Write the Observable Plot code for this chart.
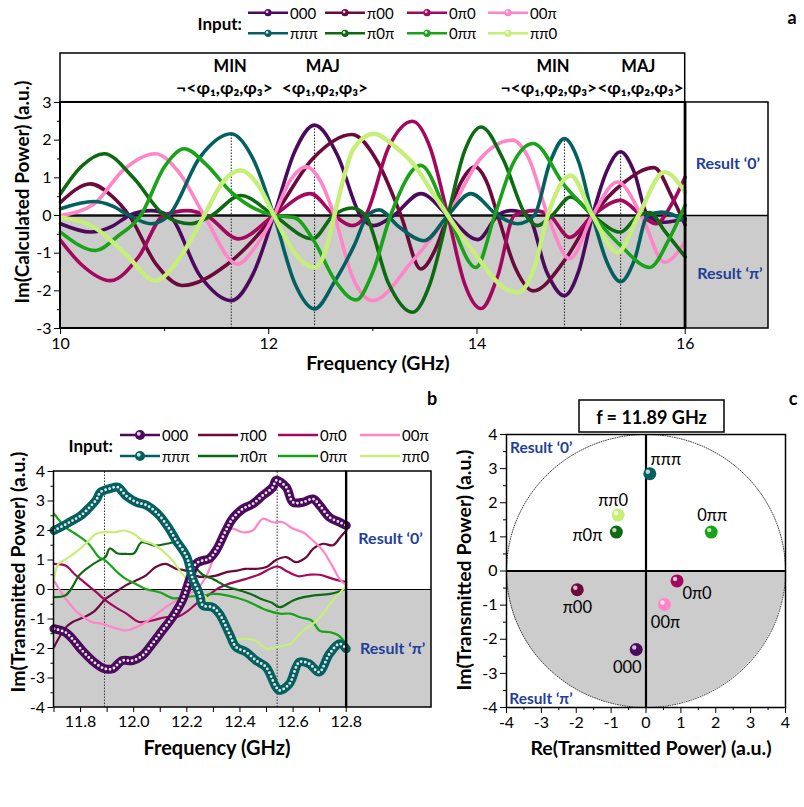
<!DOCTYPE html>
<html><head><meta charset="utf-8">
<script src="https://cdn.jsdelivr.net/npm/d3@7"></script>
<script src="https://cdn.jsdelivr.net/npm/@observablehq/plot@0.6"></script>
<style>
body{margin:0;background:#fff;}
#root{position:relative;width:804px;height:807px;overflow:hidden;background:#fff;}
</style></head><body><div id="root"></div>
<script>
// ---------- shared ----------
const inputs = ["000","π00","0π0","00π","πππ","π0π","0ππ","ππ0"];
const colors = ["#4b0a5c","#6b0a3b","#a4085e","#ff85c8","#04605f","#0e6a12","#19a319","#c6ef7a"];

// ---------- panel a : Im(Calculated Power) vs frequency ----------
const a000 = [[10,-0.22],[10.29,-0.44],[10.5,-0.28],[10.66,0],[10.87,0.13],[11.04,0],[11.34,-1.6],[11.64,-2.26],[11.85,-1.55],[12.05,0],[12.25,1.7],[12.44,2.4],[12.66,1.6],[12.88,0],[13.01,-0.27],[13.2,0],[13.46,0.58],[13.72,0],[14.01,-0.64],[14.2,0],[14.33,0.13],[14.49,0],[14.67,-1.5],[14.84,-2.13],[14.98,-1.45],[15.11,0],[15.25,1.2],[15.38,1.69],[15.51,1.15],[15.64,0],[15.8,-0.18],[16,-0.08]];
const aP00 = [[10,0.35],[10.29,0.84],[10.48,0.55],[10.66,0],[10.92,-1.3],[11.17,-1.86],[11.6,-1.3],[12.05,0],[12.42,1.5],[12.8,2.15],[13.05,1.4],[13.27,0],[13.46,-1.42],[13.6,-0.9],[13.72,0],[13.85,0.9],[13.98,1.29],[14.1,0.85],[14.2,0],[14.37,-1.4],[14.54,-2.0],[14.84,-1.2],[15.11,0],[15.4,0.85],[15.7,1.27],[15.88,0.45],[16,-0.25]];
const a0P0 = [[10,-0.66],[10.2,-1.3],[10.48,-1.73],[10.75,-1.1],[10.99,0],[11.22,0.13],[11.4,0],[11.71,-0.62],[12.05,0],[12.4,0.58],[12.63,0],[12.8,-0.27],[12.93,0],[13.15,1.8],[13.38,2.5],[13.55,1.8],[13.72,0],[13.88,-1.8],[14.04,-2.47],[14.2,-1.6],[14.36,0],[14.55,0.13],[14.7,0],[14.89,-0.58],[15.11,0],[15.38,0.4],[15.58,0],[15.72,-0.22],[15.87,0.3],[16,1.02]];
const a00P = [[10,0],[10.32,0.3],[10.6,1.2],[10.91,1.64],[11.15,1.1],[11.38,0],[11.7,-1.29],[11.88,-0.8],[12.05,0],[12.2,0.9],[12.36,1.29],[12.5,0.9],[12.63,0],[12.8,-1.6],[13.0,-2.26],[13.37,-1.24],[13.72,0],[14.03,1.5],[14.34,2.0],[14.5,1.5],[14.68,0],[14.89,-1.15],[15.11,0],[15.35,0.89],[15.58,0],[15.8,-1.24],[16,-0.7]];
const aPPP = [[10,0.18],[10.32,0.37],[10.5,0.25],[10.66,0],[10.87,-0.22],[11.04,0],[11.34,1.55],[11.64,2.17],[11.85,1.5],[12.05,0],[12.25,-1.8],[12.44,-2.48],[12.63,-1.77],[12.82,-0.8],[12.95,0],[13.06,0.15],[13.25,-0.3],[13.49,-0.67],[13.72,0],[13.94,0.58],[14.2,0],[14.39,-0.22],[14.55,0],[14.7,1.4],[14.84,2.04],[14.98,1.4],[15.11,0],[15.25,-1.25],[15.38,-1.76],[15.51,-1.2],[15.64,0],[15.77,0.09],[16,-0.13]];
const aP0P = [[10,0.58],[10.2,1.3],[10.42,1.64],[10.7,1.0],[11.0,0],[11.25,-0.22],[11.45,0],[11.73,0.53],[12.05,0],[12.42,-0.62],[12.62,0],[12.8,0.2],[12.93,0],[13.15,-1.8],[13.38,-2.57],[13.55,-1.8],[13.72,0],[13.88,1.7],[14.04,2.35],[14.25,1.5],[14.47,0],[14.58,-0.27],[14.72,0],[14.9,0.49],[15.11,0],[15.38,-0.44],[15.55,0],[15.66,0.08],[15.8,-0.4],[16,-1.1]];
const a0PP = [[10,-0.44],[10.34,-0.93],[10.55,-0.55],[10.77,0],[11.0,1.3],[11.19,1.77],[11.4,1.35],[11.64,0.62],[12.05,0],[12.24,-0.05],[12.44,-0.7],[12.63,-1.7],[12.84,-2.24],[13.0,-1.5],[13.17,0],[13.46,1.33],[13.72,0],[13.99,-1.38],[14.17,0],[14.35,1.4],[14.54,1.91],[14.84,0.8],[15.11,0],[15.38,-0.8],[15.66,-1.38],[15.85,-0.6],[16,0.27]];
const aPP0 = [[10,-0.05],[10.32,-0.31],[10.61,-0.98],[10.91,-1.73],[11.15,-1.1],[11.38,0],[11.55,0.85],[11.73,1.2],[11.9,0.8],[12.05,0],[12.25,-1.0],[12.44,-1.38],[12.55,-0.9],[12.63,0],[12.82,1.8],[13.01,2.17],[13.2,1.86],[13.4,1.33],[13.59,0.53],[13.72,0],[13.85,-0.53],[14.04,-1.24],[14.23,-1.86],[14.39,-2.04],[14.55,-1.4],[14.68,0],[14.9,1.06],[15.11,0],[15.35,-0.98],[15.55,0],[15.8,1.15],[16,0.62]];
const aSeries = [a000,aP00,a0P0,a00P,aPPP,aP0P,a0PP,aPP0];

const aMarkF = [11.64, 12.44, 14.84, 15.38];
const aMarkTop = [2.17, 2.4, 2.04, 1.69];
const aHeadText = ["MIN","¬<φ₁,φ₂,φ₃>","MAJ","<φ₁,φ₂,φ₃>","MIN","¬<φ₁,φ₂,φ₃>","MAJ","<φ₁,φ₂,φ₃>"];
const aHeadF = [11.63, 11.575, 12.52, 12.54, 14.73, 14.69, 15.55, 15.57];
const aHeadV = [3.96, 3.38, 3.96, 3.38, 3.96, 3.38, 3.96, 3.38];
const aXTicks = [10, 12, 14, 16];
const aXMinor = [11, 13, 15];
const aYTicks = [-3, -2, -1, 0, 1, 2, 3];
const aYMinor = [-2.5, -1.5, -0.5, 0.5, 1.5, 2.5];

// ---------- panel b : measured Im(Transmitted Power) ----------
const b000 = [[11.7,-1.33],[11.743,-1.45],[11.769,-1.67],[11.806,-2.07],[11.844,-2.41],[11.875,-2.62],[11.894,-2.69],[11.92,-2.69],[11.957,-2.41],[11.995,-2.41],[12.033,-2.24],[12.07,-1.84],[12.108,-1.39],[12.146,-0.94],[12.183,-0.37],[12.209,0.3],[12.234,0.87],[12.259,0.98],[12.284,1.04],[12.31,1.32],[12.347,2.0],[12.372,2.4],[12.41,2.73],[12.448,2.9],[12.486,3.19],[12.524,3.47],[12.536,3.7],[12.574,3.47],[12.599,2.96],[12.637,2.96],[12.675,3.07],[12.7,2.85],[12.737,2.45],[12.775,2.28],[12.8,2.17]];
const bP00 = [[11.7,-1.95],[11.743,-1.3],[11.77,-1.1],[11.81,-0.95],[11.85,-0.75],[11.894,-0.32],[11.93,-0.1],[11.97,0.14],[12.007,0.3],[12.045,0.47],[12.083,0.76],[12.12,0.87],[12.16,0.7],[12.196,0.64],[12.23,0.47],[12.27,0.42],[12.31,0.47],[12.35,0.59],[12.39,0.64],[12.42,0.7],[12.46,0.7],[12.5,0.76],[12.536,1.0],[12.574,1.1],[12.611,0.93],[12.65,1.1],[12.675,1.38],[12.712,1.55],[12.75,1.5],[12.78,1.8],[12.8,2.0]];
const b0P0 = [[11.7,0.87],[11.743,0.81],[11.78,0.5],[11.82,0.2],[11.86,-0.1],[11.894,-0.37],[11.94,-0.65],[11.97,-0.8],[12.02,-1.1],[12.07,-1.05],[12.12,-0.94],[12.16,-0.95],[12.2,-0.75],[12.24,-0.45],[12.28,-0.2],[12.32,0.05],[12.36,0.2],[12.42,0.35],[12.47,0.5],[12.54,0.78],[12.58,0.6],[12.62,0.45],[12.66,0.5],[12.7,0.5],[12.75,0.36],[12.8,0.25]];
const b00P = [[11.7,0.3],[11.72,0.0],[11.743,-0.3],[11.77,-0.6],[11.794,-0.82],[11.844,-1.11],[11.88,-1.16],[11.92,-1.28],[11.97,-1.39],[12.01,-1.28],[12.045,-1.11],[12.096,-0.77],[12.13,-0.54],[12.17,-0.32],[12.2,-0.15],[12.23,-0.05],[12.27,0.4],[12.31,1.3],[12.34,1.9],[12.372,2.06],[12.41,1.94],[12.448,2.0],[12.486,2.4],[12.524,2.28],[12.561,2.28],[12.6,2.06],[12.637,1.94],[12.675,1.66],[12.712,1.32],[12.75,0.76],[12.775,0.36],[12.8,0.14]];
const bPPP = [[11.7,2.0],[11.743,2.2],[11.77,2.34],[11.8,2.5],[11.83,2.75],[11.86,3.05],[11.875,3.3],[11.91,3.42],[11.94,3.47],[11.97,3.19],[12.01,2.96],[12.05,2.85],[12.09,2.57],[12.13,2.11],[12.16,1.66],[12.2,1.1],[12.22,0.42],[12.247,-0.15],[12.26,-0.54],[12.297,-0.6],[12.322,-0.82],[12.36,-1.5],[12.385,-1.95],[12.423,-2.12],[12.461,-2.41],[12.498,-2.63],[12.536,-3.31],[12.549,-3.42],[12.586,-3.2],[12.624,-2.46],[12.661,-2.52],[12.698,-2.8],[12.737,-2.18],[12.775,-1.84],[12.8,-2.01]];
const bP0P = [[11.7,-0.26],[11.743,-0.2],[11.77,0.1],[11.794,0.47],[11.831,0.76],[11.869,0.98],[11.894,1.1],[11.91,1.39],[11.94,1.22],[11.97,1.21],[12.0,1.22],[12.03,1.6],[12.08,1.49],[12.13,1.56],[12.16,1.6],[12.19,1.4],[12.22,0.9],[12.26,0.5],[12.3,0.35],[12.35,0.1],[12.4,-0.03],[12.44,-0.15],[12.48,-0.32],[12.52,-0.45],[12.55,-0.6],[12.6,-0.37],[12.64,-0.26],[12.68,-0.2],[12.74,-0.15],[12.8,0.02]];
const b0PP = [[11.7,2.57],[11.743,2.11],[11.78,1.89],[11.83,1.55],[11.869,1.1],[11.894,0.98],[11.932,0.64],[11.97,0.36],[12.008,0.19],[12.045,0.02],[12.1,-0.1],[12.15,-0.3],[12.2,-0.25],[12.26,-0.2],[12.3,-0.15],[12.35,-0.2],[12.42,-0.37],[12.5,-0.7],[12.55,-0.82],[12.59,-0.82],[12.63,-0.95],[12.67,-1.05],[12.7,-1.4],[12.74,-1.45],[12.77,-1.55],[12.8,-1.84]];
const bPP0 = [[11.7,0.3],[11.715,0.85],[11.74,1.0],[11.78,1.25],[11.82,1.55],[11.86,1.9],[11.9,1.95],[11.93,1.94],[11.964,2.0],[12.0,1.89],[12.033,1.66],[12.07,1.55],[12.108,1.32],[12.146,0.98],[12.183,0.53],[12.21,0.3],[12.247,-0.09],[12.272,-0.26],[12.31,-0.82],[12.347,-1.28],[12.385,-1.67],[12.42,-1.67],[12.46,-1.73],[12.498,-2.01],[12.54,-1.95],[12.59,-1.84],[12.637,-1.39],[12.675,-1.16],[12.712,-0.82],[12.75,-0.37],[12.785,-0.03],[12.8,0.14]];
const bSeries = [b000,bP00,b0P0,b00P,bPPP,bP0P,b0PP,bPP0];
const bMarkF = [11.89, 12.54];
const bXTicks = [11.8, 12.0, 12.2, 12.4, 12.6, 12.8];
const bXMinor = [11.7, 11.9, 12.1, 12.3, 12.5, 12.7];
const bYTicks = [-4, -3, -2, -1, 0, 1, 2, 3, 4];
const bYMinor = [-3.5, -2.5, -1.5, -0.5, 0.5, 1.5, 2.5, 3.5];

// ---------- panel c : complex plane at f = 11.89 GHz ----------
const cRe = [-0.28, -1.97, 0.89, 0.53, 0.11, -0.85, 1.87, -0.8];
const cIm = [-2.3, -0.55, -0.29, -0.98, 2.85, 1.14, 1.14, 1.64];
const cTicks = [-4, -3, -2, -1, 0, 1, 2, 3, 4];
const cMinor = [-3.5, -2.5, -1.5, -0.5, 0.5, 1.5, 2.5, 3.5];
const cRadius = 4;

// ---------- styling / layout (not data) ----------
const FONT = "Lato, 'DejaVu Sans', sans-serif";
const BLUE = "#1f3f99";
const GRAY = "#cccccc";
const cLabelOffset = {"000":[-9,18],"π00":[0,18],"0π0":[20,13],"00π":[1,18],"πππ":[16,-14],"π0π":[-29,4],"0ππ":[1,-16],"ππ0":[-5,-14]};
const baseStyle = {background: "transparent", overflow: "visible", fontFamily: FONT, fontSize: "16px", color: "black"};
const fmt = d => String(d);

const root = document.getElementById("root");
function place(svg, left, top) {
  svg.style.position = "absolute";
  svg.style.left = left + "px";
  svg.style.top = top + "px";
  root.appendChild(svg);
}

// ---------- build panel a ----------
const rowsA = inputs.flatMap((k, i) => aSeries[i].map(([f, v]) => ({k, f, v, c: colors[i], w: k === "ππ0" ? 4.4 : 3.6})));
const aMarks = aMarkF.map((f, i) => ({f, top: aMarkTop[i]}));
const aHead = aHeadText.map((t, i) => ({t, f: aHeadF[i], v: aHeadV[i], row: i % 2}));

const A = Plot.plot({
  width: 804, height: 345,
  marginLeft: 60, marginRight: 36, marginTop: 13, marginBottom: 57,
  x: {domain: [10, 16.8]},
  y: {domain: [-3, 4.3]},
  color: {type: "identity"},
  style: baseStyle,
  marks: [
    Plot.rect([{x1: 10, x2: 16.8, y1: -3, y2: 0}], {x1: "x1", x2: "x2", y1: "y1", y2: "y2", fill: GRAY}),
    Plot.ruleY([0], {x1: 16, x2: 16.8, stroke: "black", strokeWidth: 1.5}),
    Plot.ruleY([0], {x1: 10, x2: 16, stroke: "#111", strokeWidth: 2.5}),
    Plot.ruleX(aMarks, {x: "f", y1: -3, y2: "top", stroke: "#222", strokeWidth: 1, strokeDasharray: "1.5,1.5"}),
    ...inputs.map((k, i) => Plot.line(rowsA.filter(d => d.k === k), {x: "f", y: "v", stroke: "c", strokeWidth: k === "ππ0" ? 4.4 : 3.6, curve: "monotone-x"})),
    Plot.rect([{x1: 10, x2: 16, y1: 3, y2: 4.3}], {x1: "x1", x2: "x2", y1: "y1", y2: "y2", fill: "none", stroke: "black", strokeWidth: 1.5}),
    Plot.rect([{x1: 16, x2: 16.8, y1: -3, y2: 3}], {x1: "x1", x2: "x2", y1: "y1", y2: "y2", fill: "none", stroke: "black", strokeWidth: 1.5}),
    Plot.rect([{x1: 10, x2: 16, y1: -3, y2: 3}], {x1: "x1", x2: "x2", y1: "y1", y2: "y2", fill: "none", stroke: "black", strokeWidth: 2}),
    Plot.ruleX([16], {y1: -3, y2: 3, stroke: "black", strokeWidth: 2.5}),
    Plot.text(aHead.filter(d => d.row === 0), {x: "f", y: "v", text: "t", fontWeight: "bold", fontSize: 16.5}),
    Plot.text(aHead.filter(d => d.row === 1), {x: "f", y: "v", text: "t", fontWeight: "bold", fontSize: 17.5}),
    Plot.text(["Result ‘0’"], {x: 16.41, y: 1.38, text: d => d, fill: BLUE, fontWeight: "bold", fontSize: 16}),
    Plot.text(["Result ‘π’"], {x: 16.43, y: -1.54, text: d => d, fill: BLUE, fontWeight: "bold", fontSize: 16}),
    Plot.axisX({ticks: aXTicks, tickSize: 6, tickPadding: 3, tickFormat: fmt, label: null}),
    Plot.axisX({ticks: aXMinor, tickSize: 3, tickFormat: () => "", label: null}),
    Plot.axisY({ticks: aYTicks, tickSize: 6, tickPadding: 3, tickFormat: fmt, label: null}),
    Plot.axisY({ticks: aYMinor, tickSize: 3, tickFormat: () => "", label: null})
  ]
});
place(A, 0, 40);

// ---------- build panel b ----------
const rowsB = inputs.flatMap((k, i) => bSeries[i].map(([f, v]) => ({k, f, v, c: colors[i]})));
const thinB = rowsB.filter(d => d.k !== "000" && d.k !== "πππ");
const B = Plot.plot({
  width: 450, height: 310,
  marginLeft: 53.5, marginRight: 19, marginTop: 11, marginBottom: 63,
  x: {domain: [11.7, 13.121]},
  y: {domain: [-4, 4]},
  color: {type: "identity"},
  style: baseStyle,
  marks: [
    Plot.rect([{x1: 11.7, x2: 13.121, y1: -4, y2: 0}], {x1: "x1", x2: "x2", y1: "y1", y2: "y2", fill: GRAY}),
    Plot.ruleY([0], {x1: 11.7, x2: 13.121, stroke: "black", strokeWidth: 1.2}),
    Plot.ruleX(bMarkF, {y1: -4, y2: 4, stroke: "#333", strokeWidth: 1, strokeDasharray: "1.5,1.5"}),
    Plot.line(thinB, {x: "f", y: "v", z: "k", stroke: "c", strokeWidth: 2.2, curve: "catmull-rom"}),
    ...["000", "πππ"].flatMap(k => {
      const d = rowsB.filter(r => r.k === k);
      return [
        Plot.line(d, {x: "f", y: "v", stroke: "c", strokeWidth: 9, curve: "catmull-rom"}),
        Plot.line(d, {x: "f", y: "v", stroke: "#e8e8f0", strokeWidth: 2.8, strokeDasharray: "0 4.2", strokeLinecap: "round", curve: "catmull-rom"})
      ];
    }),
    Plot.rect([{x1: 11.7, x2: 12.8, y1: -4, y2: 4}], {x1: "x1", x2: "x2", y1: "y1", y2: "y2", fill: "none", stroke: "black", strokeWidth: 1.5}),
    Plot.rect([{x1: 12.8, x2: 13.121, y1: -4, y2: 4}], {x1: "x1", x2: "x2", y1: "y1", y2: "y2", fill: "none", stroke: "black", strokeWidth: 1.5}),
    Plot.ruleX([12.8], {y1: -4, y2: 4, stroke: "black", strokeWidth: 2.2}),
    Plot.text(["Result ‘0’"], {x: 12.967, y: 1.73, text: d => d, fill: BLUE, fontWeight: "bold", fontSize: 16}),
    Plot.text(["Result ‘π’"], {x: 12.975, y: -2.0, text: d => d, fill: BLUE, fontWeight: "bold", fontSize: 16}),
    Plot.axisX({ticks: bXTicks, tickSize: 5, tickPadding: 3, tickFormat: d3.format(".1f"), label: null}),
    Plot.axisX({ticks: bXMinor, tickSize: 5, tickFormat: () => "", label: null}),
    Plot.axisY({ticks: bYTicks, tickSize: 6, tickPadding: 3, tickFormat: fmt, label: null}),
    Plot.axisY({ticks: bYMinor, tickSize: 3, tickFormat: () => "", label: null})
  ]
});
place(B, 0, 460);

// ---------- build panel c ----------
const cPts = inputs.map((k, i) => ({k, re: cRe[i], im: cIm[i], c: colors[i]}));
const circle = d3.range(0, 361, 2).map(a => ({x: cRadius * Math.cos(a * Math.PI / 180), y: cRadius * Math.sin(a * Math.PI / 180)}));
const halfDisc = d3.range(180, 361, 2).map(a => ({x: cRadius * Math.cos(a * Math.PI / 180), y: cRadius * Math.sin(a * Math.PI / 180)}));
const C = Plot.plot({
  width: 354, height: 395,
  marginLeft: 56, marginRight: 19, marginTop: 39, marginBottom: 83,
  x: {domain: [-4, 4]},
  y: {domain: [-4, 4]},
  color: {type: "identity"},
  style: baseStyle,
  marks: [
    Plot.areaY(halfDisc, {x: "x", y1: 0, y2: "y", fill: GRAY}),
    Plot.line(circle, {x: "x", y: "y", stroke: "#333", strokeWidth: 0.9, strokeDasharray: "1,1.4"}),
    Plot.ruleX([0], {y1: -4, y2: 4, stroke: "black", strokeWidth: 2.2}),
    Plot.ruleY([0], {x1: -4, x2: 4, stroke: "black", strokeWidth: 2.2}),
    Plot.frame({stroke: "black", strokeWidth: 1.5}),
    Plot.dot(cPts, {x: "re", y: "im", r: 6.5, fill: "c"}),
    Plot.dot(cPts, {x: "re", y: "im", r: 2.2, fill: "white", fillOpacity: 0.75, dx: -2, dy: -2}),
    ...cPts.map(p => Plot.text([p], {x: "re", y: "im", text: "k", fontSize: 16.5, dx: cLabelOffset[p.k][0], dy: cLabelOffset[p.k][1]})),
    Plot.text(["Result ‘0’"], {x: -3.9, y: 3.6, text: d => d, textAnchor: "start", fill: BLUE, fontWeight: "bold", fontSize: 15.5}),
    Plot.text(["Result ‘π’"], {x: -3.92, y: -3.75, text: d => d, textAnchor: "start", fill: BLUE, fontWeight: "bold", fontSize: 15.5}),
    Plot.axisX({ticks: cTicks, tickSize: 6, tickPadding: 3, tickFormat: fmt, label: null}),
    Plot.axisX({ticks: cMinor, tickSize: 3, tickFormat: () => "", label: null}),
    Plot.axisY({ticks: cTicks, tickSize: 6, tickPadding: 3, tickFormat: fmt, label: null}),
    Plot.axisY({ticks: cMinor, tickSize: 3, tickFormat: () => "", label: null})
  ]
});
place(C, 450, 395);

// ---------- overlay: legends, titles, panel letters ----------
const ov = d3.select(root).append("svg")
  .attr("width", 804).attr("height", 807)
  .style("position", "absolute").style("left", "0px").style("top", "0px")
  .style("font-family", FONT).style("overflow", "visible");

function txt(x, y, s, opts = {}) {
  const t = ov.append("text").attr("x", x).attr("y", y).attr("dominant-baseline", "central")
    .attr("text-anchor", opts.anchor || "start").attr("font-size", opts.size || 15)
    .attr("font-weight", opts.weight || "normal").attr("fill", opts.fill || "black").text(s);
  if (opts.rotate) t.attr("transform", `rotate(-90 ${x} ${y})`);
  return t;
}

function legend(xs, rowsY, len, markerFor, inputY, inputX) {
  txt(inputX, inputY, "Input:", {anchor: "end", size: 17, weight: "bold"});
  inputs.forEach((k, i) => {
    const x = xs[i % 4], y = rowsY[Math.floor(i / 4)];
    ov.append("line").attr("x1", x).attr("x2", x + len).attr("y1", y).attr("y2", y)
      .attr("stroke", colors[i]).attr("stroke-width", 2.5);
    const r = markerFor(k);
    if (r > 0) {
      ov.append("circle").attr("cx", x + len / 2).attr("cy", y).attr("r", r).attr("fill", colors[i]);
      ov.append("circle").attr("cx", x + len / 2 - r * 0.25).attr("cy", y - r * 0.25).attr("r", r * 0.38).attr("fill", "white").attr("opacity", 0.8);
    }
    txt(x + len + 2, y, k, {size: 15});
  });
}
legend([248, 325, 407, 488], [12.7, 33.3], 40, () => 3.6, 23, 242);
legend([120, 198, 278, 360], [435, 456], 40, k => (k === "000" || k === "πππ") ? 5 : 0, 445, 113);

// axis titles
txt(21, 192, "Im(Calculated Power) (a.u.)", {anchor: "middle", size: 19, weight: "bold", rotate: true});
txt(378, 362, "Frequency (GHz)", {anchor: "middle", size: 19.5, weight: "bold"});
txt(17, 572, "Im(Transmitted Power) (a.u.)", {anchor: "middle", size: 19.5, weight: "bold", rotate: true});
txt(217, 747, "Frequency (GHz)", {anchor: "middle", size: 20, weight: "bold"});
txt(463, 570, "Im(Transmitted Power) (a.u.)", {anchor: "middle", size: 19.5, weight: "bold", rotate: true});
txt(651, 747, "Re(Transmitted Power) (a.u.)", {anchor: "middle", size: 19.5, weight: "bold"});

// panel letters
txt(792, 17, "a", {anchor: "middle", size: 18, weight: "bold"});
txt(432, 398, "b", {anchor: "middle", size: 18, weight: "bold"});
txt(793, 398, "c", {anchor: "middle", size: 18, weight: "bold"});

// panel c title box
ov.append("rect").attr("x", 579).attr("y", 400).attr("width", 145).attr("height", 32)
  .attr("fill", "white").attr("stroke", "black").attr("stroke-width", 1.5);
txt(651.5, 416.5, "f = 11.89 GHz", {anchor: "middle", size: 18, weight: "bold"});
</script></body></html>
